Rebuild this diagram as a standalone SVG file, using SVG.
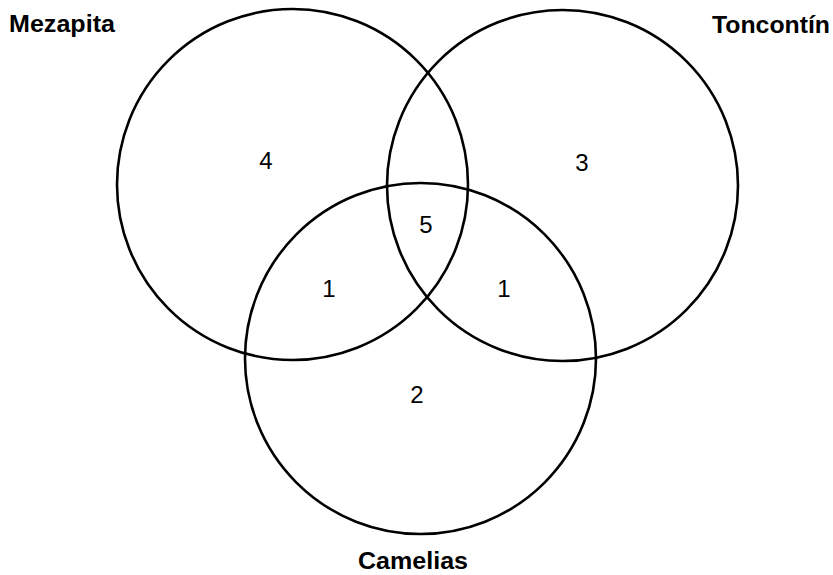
<svg xmlns="http://www.w3.org/2000/svg" width="833" height="575" viewBox="0 0 833 575">
<style>
.c{fill:none;stroke:#000;stroke-width:2.6}
.t{font-family:"Liberation Sans",Arial,sans-serif;font-weight:bold;font-size:23px;fill:#000}
.n{font-family:"Liberation Sans",Arial,sans-serif;font-size:24px;fill:#000;text-anchor:middle}
</style>
<rect width="833" height="575" fill="#fff"/>
<g id="mezapita">
<circle class="c" cx="292.5" cy="184.5" r="175.5"/>
<text class="t" x="9" y="32" textLength="106" lengthAdjust="spacingAndGlyphs">Mezapita</text>
</g>
<g id="toncontin">
<circle class="c" cx="562.5" cy="185.5" r="175.5"/>
<text class="t" x="712" y="33" textLength="118" lengthAdjust="spacingAndGlyphs">Toncontín</text>
</g>
<g id="camelias">
<circle class="c" cx="420.5" cy="358.5" r="175.5"/>
<text class="t" x="358" y="569" textLength="110" lengthAdjust="spacingAndGlyphs">Camelias</text>
</g>
<g id="counts">
<text class="n" x="266" y="169">4</text>
<text class="n" x="582" y="171">3</text>
<text class="n" x="426" y="233">5</text>
<text class="n" x="329" y="297">1</text>
<text class="n" x="504" y="297">1</text>
<text class="n" x="417" y="403">2</text>
</g>
<g id="connectors"/>
</svg>
